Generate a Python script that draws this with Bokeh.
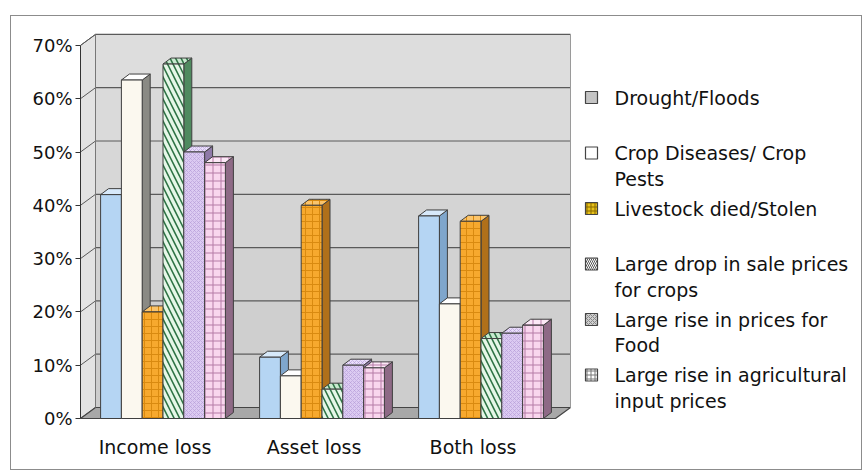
import numpy as np
from bokeh.plotting import figure
from bokeh.models import Range1d, FixedTicker, NumeralTickFormatter, InlineStyleSheet
from bokeh.core.properties import value
from bokeh.embed import file_html
from bokeh.resources import INLINE

# ---------------- data ----------------
categories = ["Income loss", "Asset loss", "Both loss"]
series_labels = [
    "Drought/Floods",
    "Crop Diseases/ Crop\nPests",
    "Livestock died/Stolen",
    "Large drop in sale prices\nfor crops",
    "Large rise in prices for\nFood",
    "Large rise in agricultural\ninput prices",
]
drought_floods = [0.42, 0.115, 0.38]
crop_diseases = [0.635, 0.08, 0.215]
livestock_died = [0.20, 0.40, 0.37]
sale_price_drop = [0.665, 0.055, 0.15]
food_price_rise = [0.50, 0.10, 0.16]
input_price_rise = [0.48, 0.095, 0.175]
y_ticks = [0.0, 0.1, 0.2, 0.3, 0.4, 0.5, 0.6, 0.7]

series_values = [drought_floods, crop_diseases, livestock_died,
                 sale_price_drop, food_price_rise, input_price_rise]

# ---------------- styles ----------------
FONT = "DejaVu Sans"
styles = [
    dict(fill="#b5d5f3", side="#7fa6cc", top="#d7e9fa", hatch=None, hcol=None, hscale=1, hw=1),
    dict(fill="#fbf8ef", side="#8a8a84", top="#ffffff", hatch=None, hcol=None, hscale=1, hw=1),
    dict(fill="#f7a92e", side="#b0701a", top="#fbc46a", hatch="+", hcol="#d98a10", hscale=7, hw=1),
    dict(fill="#e6f7e8", side="#4f8a5f", top="#c9ead0", hatch="\\", hcol="#2f7446", hscale=11, hw=1.6),
    dict(fill="#dccbf2", side="#8f7aa8", top="#e9defa", hatch="x", hcol="#b49ad6", hscale=4, hw=0.6),
    dict(fill="#f9d6ee", side="#8e6a86", top="#fce8f6", hatch="+", hcol="#b57aa6", hscale=8, hw=1),
]
swatch_fill = ["#c4c4c4", "#ffffff", "#e8c21a", "#ffffff", "#cfcfcf", "#ffffff"]
swatch_hatch = [None, None, "+", "\\", "x", "+"]
swatch_hcol = [None, None, "#8a6a00", "#555555", "#888888", "#777777"]

# ---------------- layout (pixels -> data) ----------------
W, H = 864, 475
FL, FR, FT, FB = 80, 862, 30, 422      # frame edges in px
SX = 159.0                             # px per category
SY = 533.0                             # px per unit value
Y0PX = 418.0                           # px of value 0 (front)
GC0 = 162.5                            # px of first group center
x_start = -(GC0 - FL) / SX
x_end = x_start + (FR - FL) / SX
y_start = -(FB - Y0PX) / SY
y_end = (Y0PX - FT) / SY

def px_x(px):
    return x_start + (px - FL) / SX

def px_y(py):
    return (Y0PX - py) / SY

wall_dx, wall_dy = 15 / SX, 11 / SY
bar_dx, bar_dy = 8 / SX, 6 / SY
bar_w = 20.8 / SX
wall_right = px_x(570)
wall_left = x_start
top_val = y_ticks[-1]

border_css = InlineStyleSheet(css="""
:host::after {
  content: "";
  position: absolute;
  left: 10px; top: 15px; width: 852px; height: 455px;
  border: 1.5px solid #8c8c8c;
  box-sizing: border-box;
  pointer-events: none;
}
""")

p = figure(width=W, height=H, output_backend="svg", toolbar_location=None,
           x_range=Range1d(x_start, x_end), y_range=Range1d(y_start, y_end),
           min_border_left=FL, min_border_right=W - FR, min_border_top=FT,
           min_border_bottom=H - FB, stylesheets=[border_css])
p.outline_line_color = None
p.xgrid.visible = False
p.ygrid.visible = False
p.background_fill_color = "white"
p.border_fill_color = "white"

# ---------------- 3D walls ----------------
band_cols = ["#cdcdcd", "#cfcfcf", "#d2d2d2", "#d4d4d4", "#d7d7d7", "#dadada", "#dddddd"]
p.quad(left=wall_left + wall_dx, right=wall_right,
       bottom=[v + wall_dy for v in y_ticks[:-1]], top=[v + wall_dy for v in y_ticks[1:]],
       fill_color=band_cols, line_color=None)
p.patch([wall_left, wall_left + wall_dx, wall_left + wall_dx, wall_left],
        [0, wall_dy, top_val + wall_dy, top_val],
        fill_color="#e3e3e3", line_color="#555555", line_width=1)
p.patch([wall_left, wall_left + wall_dx, wall_right, wall_right - wall_dx],
        [0, wall_dy, wall_dy, 0],
        fill_color="#a8a8a8", line_color="#444444", line_width=1.2)
gv = y_ticks[1:]
p.segment(x0=wall_left + wall_dx, y0=[v + wall_dy for v in gv], x1=wall_right,
          y1=[v + wall_dy for v in gv], line_color="#5a5a5a", line_width=1.2)
p.segment(x0=wall_left, y0=gv, x1=wall_left + wall_dx,
          y1=[v + wall_dy for v in gv], line_color="#5a5a5a", line_width=1)
p.segment(x0=[wall_right], y0=[wall_dy], x1=[wall_right], y1=[top_val + wall_dy],
          line_color="#9a9a9a", line_width=1)
p.segment(x0=[wall_left + wall_dx], y0=[wall_dy], x1=[wall_left + wall_dx], y1=[top_val + wall_dy],
          line_color="#777777", line_width=1)

# ---------------- bars ----------------
n_s = len(series_values)
for s, vals in enumerate(series_values):
    st = styles[s]
    lefts = [i - n_s / 2 * bar_w + s * bar_w for i in range(len(categories))]
    rights = [l + bar_w for l in lefts]
    side_xs = [[r, r + bar_dx, r + bar_dx, r] for r in rights]
    side_ys = [[0, bar_dy, v + bar_dy, v] for v in vals]
    top_xs = [[l, l + bar_dx, r + bar_dx, r] for l, r in zip(lefts, rights)]
    top_ys = [[v, v + bar_dy, v + bar_dy, v] for v in vals]
    hk = {}
    if st["hatch"]:
        hk = dict(hatch_pattern=st["hatch"], hatch_color=st["hcol"],
                  hatch_scale=st["hscale"], hatch_weight=st["hw"])
    p.patches(side_xs, side_ys, fill_color=st["side"], line_color="#3f3f3f", line_width=1)
    p.patches(top_xs, top_ys, fill_color=st["top"], line_color="#3f3f3f", line_width=1, **hk)
    p.vbar(x=[(l + r) / 2 for l, r in zip(lefts, rights)], width=bar_w, top=vals, bottom=0,
           fill_color=st["fill"], line_color="#3f3f3f", line_width=1, **hk)

# ---------------- axes ----------------
p.yaxis.ticker = FixedTicker(ticks=y_ticks)
p.yaxis.formatter = NumeralTickFormatter(format="0%")
p.yaxis.bounds = (0, top_val)
p.yaxis.axis_line_color = "#333333"
p.yaxis.major_tick_out = 5
p.yaxis.major_tick_in = 0
p.yaxis.minor_tick_line_color = None
p.yaxis.major_tick_line_color = "#333333"
p.yaxis.major_label_standoff = 3
p.yaxis.major_label_text_font = FONT
p.yaxis.major_label_text_font_size = "18px"
p.yaxis.major_label_text_color = "#111111"

cat_shift = -0.05
cat_ticks = [i + cat_shift for i in range(len(categories))]
p.xaxis.ticker = FixedTicker(ticks=cat_ticks)
p.xaxis.major_label_overrides = {t: c for t, c in zip(cat_ticks, categories)}
p.xaxis.axis_line_color = None
p.xaxis.major_tick_line_color = None
p.xaxis.minor_tick_line_color = None
p.xaxis.major_label_standoff = 7
p.xaxis.major_label_text_font = FONT
p.xaxis.major_label_text_font_size = "19px"
p.xaxis.major_label_text_color = "#111111"

# ---------------- legend (manual) ----------------
item_pitch = 55.5
line_gap = 25.5
first_y = 97.0
sw_x = px_x(591)
tx_x = px_x(614)
for k, lab in enumerate(series_labels):
    ypx = first_y + k * item_pitch
    hk = {}
    if swatch_hatch[k]:
        hk = dict(hatch_pattern=swatch_hatch[k], hatch_color=swatch_hcol[k],
                  hatch_scale=4, hatch_weight=1)
    p.rect(x=[sw_x], y=[px_y(ypx)], width=12, height=12, width_units="screen",
           height_units="screen", fill_color=swatch_fill[k], line_color="#444444",
           line_width=1.2, **hk)
    lines = lab.split("\n")
    p.text(x=[tx_x] * len(lines), y=[px_y(ypx + j * line_gap) for j in range(len(lines))],
           text=lines, text_font=value(FONT), text_font_size="19px",
           text_color="#111111", text_baseline="middle", text_align="left")

open("out.html", "w").write(file_html(p, INLINE))
